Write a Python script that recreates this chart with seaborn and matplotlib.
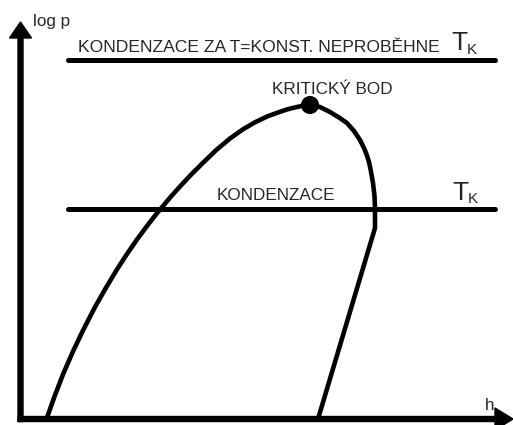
import matplotlib
matplotlib.use("Agg")
import matplotlib.pyplot as plt
import seaborn as sns
import pandas as pd

sns.set_theme(style="white")
plt.rcParams["font.family"] = ["Liberation Sans", "DejaVu Sans"]

# Saturation dome in the log p - h diagram (h, log p in drawing units):
# saturated liquid branch, critical point, saturated vapour branch
dome_h = [26, 34.25, 42.5, 52.5, 62.5, 74.5, 86.5, 96.5, 106.5, 116.5,
          126.5, 134, 141.5, 150.5, 159.5, 171, 182.5, 196, 209.5,
          222, 234.5, 247, 259.5, 266, 272.5, 281, 289.5,
          299.5, 309.5, 318.5, 326.5, 333.5, 339.5, 343.5, 346.3, 348.5,
          350, 352.5, 354, 354.5, 354.5, 297.5]
dome_p = [0, 23.2, 44.6, 67.6, 88.6, 112, 133, 149.6, 165, 179.5,
          193, 202.7, 211.8, 222.5, 232.5, 244.8, 256.2, 269.2, 280.5,
          289.4, 296.7, 302.7, 307.2, 309.4, 311.1, 313, 314,
          312, 307, 301.5, 296, 288, 279, 271, 264, 257,
          250, 236, 223, 211, 191, 0]

# Critical point
crit_h = [289.5]
crit_p = [314]

# Isotherms: above the critical point and the condensation isotherm T_K
iso_h = [47, 474]
iso_upper_p = [359, 359]
iso_lower_p = [210, 210]

# Axis extents
h_max = 492.5
p_max = 397

dome = pd.DataFrame({"h": dome_h, "log p": dome_p})
iso = pd.DataFrame({
    "h": iso_h + iso_h,
    "log p": iso_upper_p + iso_lower_p,
    "izoterma": ["nad"] * 2 + ["kondenzace"] * 2,
})

fig = plt.figure(figsize=(5.13, 4.25), dpi=100)
ax = fig.add_axes([0, 0, 1, 1])
ax.set_xlim(-20.5, 492.5)
ax.set_ylim(-6, 419)
ax.set_axis_off()

sns.lineplot(data=dome, x="h", y="log p", sort=False, estimator=None,
             color="black", linewidth=3.3, ax=ax,
             solid_capstyle="round", solid_joinstyle="round")
sns.lineplot(data=iso, x="h", y="log p", units="izoterma", estimator=None,
             color="black", linewidth=3.6, ax=ax, solid_capstyle="round")
sns.scatterplot(x=crit_h, y=crit_p, s=170, color="black", edgecolor="none",
                ax=ax, zorder=5)

# Axes with arrow heads
ax.arrow(0, -2.5, 0, p_max + 2.5, width=5, head_width=22, head_length=16,
         length_includes_head=True, color="black", zorder=4)
ax.arrow(-2.5, 0, h_max + 2.5, 0, width=5, head_width=22, head_length=18,
         length_includes_head=True, color="black", zorder=4)

fs = 12.3
ax.text(12.5, 393, "log p", fontsize=fs, va="baseline", ha="left")
ax.text(464.5, 9, "h", fontsize=fs, va="baseline", ha="left")

ax.text(57.5, 367, "KONDENZACE ZA T=KONST. NEPROBĚHNE", fontsize=12.6,
        va="baseline", ha="left")
ax.text(430.5, 369, "T", fontsize=19, va="baseline", ha="left")
ax.text(446, 365, "K", fontsize=11, va="baseline", ha="left")

ax.text(251.5, 325, "KRITICKÝ BOD", fontsize=fs, va="baseline", ha="left")

ax.text(196.5, 219, "KONDENZACE", fontsize=fs, va="baseline", ha="left")
ax.text(431.5, 219, "T", fontsize=19, va="baseline", ha="left")
ax.text(447, 216, "K", fontsize=11, va="baseline", ha="left")

fig.savefig("out.png", dpi=100, facecolor="white")
